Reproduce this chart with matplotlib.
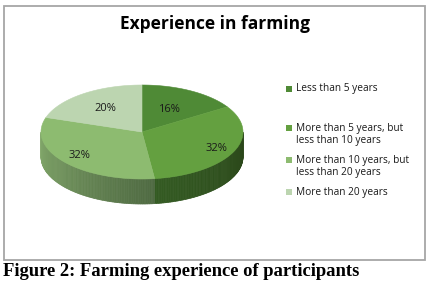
import numpy as np
import matplotlib
matplotlib.use("Agg")
import matplotlib.pyplot as plt
from matplotlib.patches import Polygon, Rectangle
from matplotlib.colors import to_rgb

# ---- data ----
title = "Experience in farming"
caption = "Figure 2: Farming experience of participants"
categories = ["Less than 5 years",
              "More than 5 years, but\nless than 10 years",
              "More than 10 years, but\nless than 20 years",
              "More than 20 years"]
values = [16, 32, 32, 20]
labels = ["16%", "32%", "32%", "20%"]

# ---- style ----
top_colors = ["#4f8a36", "#64a040", "#8dbb70", "#bcd5b0"]
side_start = ["#3f6e2b", "#345b23", "#84aa6c", "#9fb895"]
side_end = ["#345b23", "#2a4619", "#4f6a42", "#8aa480"]
label_r = [0.55, 0.82, 0.8, 0.62]

W, H = 430, 284
fig = plt.figure(figsize=(W / 100, H / 100), dpi=100)
ax = fig.add_axes([0, 0, 1, 1])
ax.set_xlim(0, W)
ax.set_ylim(H, 0)
ax.axis("off")

# chart border
ax.add_patch(Rectangle((3.5, 5.5), 421.5, 254, fill=False, ec="#a6a6a6", lw=1.3))

cx, cy, rx, ry, depth = 142, 132, 101, 47, 25

def pt(a, dy=0.0):
    r = np.radians(a)
    return cx + rx * np.cos(r), cy - ry * np.sin(r) + dy

fr = np.array(values, dtype=float) / sum(values)
ends = 90 - 360 * np.cumsum(fr)
starts = np.concatenate([[90], ends[:-1]])

# sides (front half: angles 180..360 in math orientation)
for i in range(len(values)):
    a1, a2 = ends[i], starts[i]
    for off in (0, 360, -360):
        lo, hi = max(a1 + off, 180), min(a2 + off, 360)
        if hi <= lo:
            continue
        n = max(int(hi - lo), 2)
        angs = np.linspace(lo, hi, n + 1)
        c0, c1 = np.array(to_rgb(side_start[i])), np.array(to_rgb(side_end[i]))
        for k in range(n):
            aa, bb = angs[k], angs[k + 1]
            f = np.clip(((aa + bb) / 2 - lo) / (hi - lo), 0, 1)
            col = c0 + (c1 - c0) * f
            p = [pt(aa), pt(bb), pt(bb, depth), pt(aa, depth)]
            ax.add_patch(Polygon(p, closed=True, fc=col, ec=col, lw=0.5))

# top faces
for i in range(len(values)):
    angs = np.linspace(starts[i], ends[i], 80)
    p = [(cx, cy)] + [pt(a) for a in angs]
    ax.add_patch(Polygon(p, closed=True, fc=top_colors[i], ec=top_colors[i], lw=0.4))

# percentage labels
for i in range(len(values)):
    m = np.radians((starts[i] + ends[i]) / 2)
    x = cx + label_r[i] * rx * np.cos(m)
    y = cy - label_r[i] * ry * np.sin(m)
    ax.text(x, y, labels[i], ha="center", va="center", fontsize=8,
            family="Open Sans", color="#1a1a1a")

# title
ax.text(215, 24, title, ha="center", va="center", fontsize=12.5,
        fontweight="bold", family="Open Sans", color="#000000")

# legend
leg_y = [89, 128, 160, 192]
for i, cat in enumerate(categories):
    ax.add_patch(Rectangle((286, leg_y[i] - 3), 6, 6, fc=top_colors[i], ec="none"))
    ax.text(296, leg_y[i] - 5.5, cat, ha="left", va="top", fontsize=7.3,
            family="Open Sans", color="#1a1a1a", linespacing=1.2)

# caption
ax.text(3, 271, caption, ha="left", va="center", fontsize=13.4,
        fontweight="bold", family="Liberation Serif", color="#000000")

fig.savefig("out.png", dpi=100)
